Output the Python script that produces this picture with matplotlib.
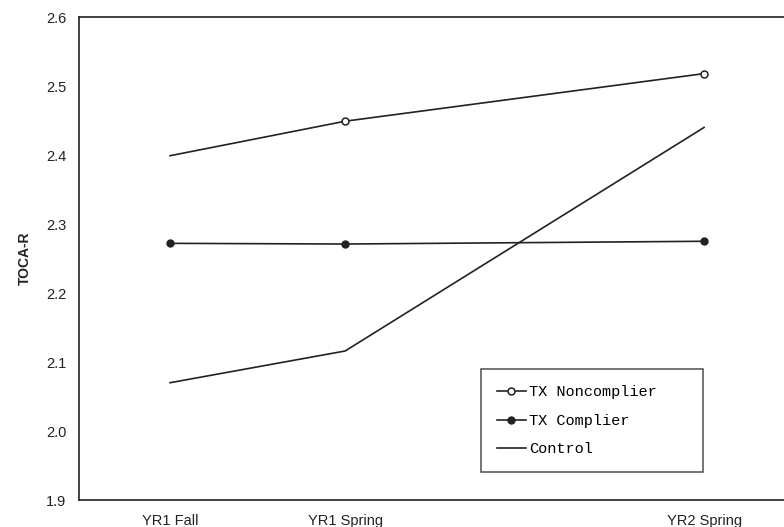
import numpy as np
import matplotlib.pyplot as plt

# time points (semesters from YR1 Fall)
x_pos = [0, 1, 3.05]
x_labels = ['YR1 Fall', 'YR1 Spring', 'YR2 Spring']

noncomplier = [2.399, 2.449, 2.518]
complier = [2.272, 2.271, 2.275]
control = [2.070, 2.116, 2.440]

plt.rcParams['font.family'] = ['Liberation Sans', 'DejaVu Sans']

fig = plt.figure(figsize=(7.84, 5.27), dpi=100)
ax = fig.add_axes([0.1008, 0.0512, 0.9, 0.9165])

col = '#222222'
ax.plot(x_pos, noncomplier, color=col, lw=1.2, marker='o', ms=5,
        mfc='white', mec=col, mew=1.1, markevery=[1, 2], label='TX Noncomplier')
ax.plot(x_pos, complier, color=col, lw=1.2, marker='o', ms=5,
        mfc=col, mec=col, label='TX Complier')
ax.plot(x_pos, control, color=col, lw=1.2, label='Control')

ax.set_xlim(-0.52, 3.51)
ax.set_ylim(1.9, 2.6)
ax.set_yticks(np.arange(1.9, 2.61, 0.1))
ax.set_yticklabels(['%.1f' % v for v in np.arange(1.9, 2.61, 0.1)])
ax.set_xticks(x_pos)
ax.set_xticklabels(x_labels)
ax.tick_params(length=0, labelsize=10.5, colors='#222222')
ax.tick_params(axis='y', pad=9)
ax.tick_params(axis='x', pad=10)
ax.set_ylabel('TOCA-R', fontsize=10, fontweight='bold', labelpad=10, color='#222222')

for s in ['left', 'bottom', 'top']:
    ax.spines[s].set_color('#222222')
    ax.spines[s].set_linewidth(1.2)
ax.spines['right'].set_visible(False)

leg = ax.legend(loc='lower left', bbox_to_anchor=(0.569, 0.057, 0.315, 0.215),
                mode='expand',
                prop={'family': 'Liberation Mono', 'size': 11},
                frameon=True, fancybox=False, edgecolor='#222222',
                handlelength=1.9, handletextpad=0.25, labelspacing=0.95,
                borderpad=1.05, borderaxespad=0)
leg.get_frame().set_linewidth(1.1)

fig.savefig('out.png', dpi=100)
